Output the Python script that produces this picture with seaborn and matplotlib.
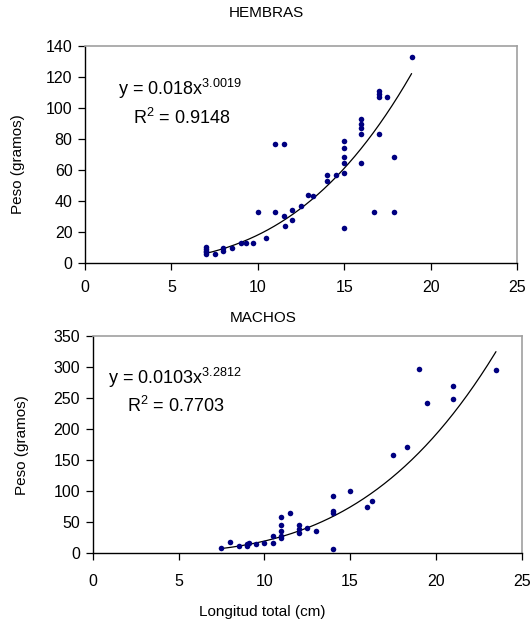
import numpy as np
import pandas as pd
import matplotlib
matplotlib.use('Agg')
import matplotlib.pyplot as plt
import seaborn as sns

# HEMBRAS: longitud total (cm) y peso (g)
hembras_longitud = [7, 7, 7, 7, 7, 7.5, 8, 8, 8.5, 9, 9.3, 9.7, 10, 10.5, 11, 11,
                    11.5, 11.5, 11.6, 12, 12, 12.5, 12.9, 13.2, 14, 14, 14.5,
                    15, 15, 15, 15, 15, 15, 16, 16, 16, 16, 16, 16.7,
                    17, 17, 17, 17, 17.5, 17.9, 17.9, 18.9]
hembras_peso = [6, 7, 8, 9, 10.5, 6, 10, 7.5, 10, 13, 13, 13, 33, 16, 77, 33,
                77, 30.5, 24, 34, 28, 37, 44, 43, 57, 53, 57,
                78.5, 74.5, 68.5, 64.5, 58, 22.5, 93, 90, 87, 83, 64.5, 33,
                111, 109, 107, 83, 107, 68.5, 33, 133]

# MACHOS
machos_longitud = [7.5, 8, 8.5, 9, 9, 9.1, 9.5, 10, 10.5, 10.5, 11, 11, 11, 11, 11,
                   11.5, 12, 12, 12, 12.5, 13, 14, 14, 14, 14, 15, 16, 16.3,
                   17.5, 18.3, 19, 19.5, 21, 21, 23.5]
machos_peso = [9, 18, 12, 11, 15, 17, 15, 17, 28, 17, 59, 45, 36, 28, 25,
               65, 45, 39, 32, 40, 36, 92, 68, 65, 7, 101, 74, 84,
               159, 171, 297, 242, 270, 249, 295]

# Curvas potenciales (y = a x^b) y R2 tal como aparecen en la figura
hembras_ajuste = {'a': 0.018, 'b': 3.0019, 'r2': 0.9148, 'a_txt': '0.018'}
machos_ajuste = {'a': 0.0103, 'b': 3.2812, 'r2': 0.7703, 'a_txt': '0.0103'}

sns.set_style('white')
plt.rcParams['font.family'] = ['Liberation Sans', 'DejaVu Sans']
plt.rcParams['mathtext.fontset'] = 'custom'
plt.rcParams['mathtext.rm'] = 'Liberation Sans'
plt.rcParams['mathtext.it'] = 'Liberation Sans'
plt.rcParams['text.color'] = 'black'
plt.rcParams['xtick.color'] = 'black'
plt.rcParams['ytick.color'] = 'black'

W, H = 531, 630
fig = plt.figure(figsize=(W / 100, H / 100), dpi=100)


def px_axes(left, top, right, bottom):
    return fig.add_axes([left / W, 1 - bottom / H, (right - left) / W, (bottom - top) / H])


def draw_panel(ax, x, y, fit, ymax, ystep, eq_xy, r2_xy, xpad):
    df = pd.DataFrame({'Longitud': x, 'Peso': y})
    sns.scatterplot(data=df, x='Longitud', y='Peso', ax=ax, color='#000080',
                    s=16, linewidth=0, zorder=3)

    # trendline drawn over the data range
    xs = np.linspace(min(x), max(x), 200)
    curve = pd.DataFrame({'Longitud': xs, 'Peso': fit['a'] * xs ** fit['b']})
    sns.lineplot(data=curve, x='Longitud', y='Peso', ax=ax, color='black', lw=0.9)

    ax.set_xlim(0, 25)
    ax.set_ylim(0, ymax)
    ax.set_xticks(range(0, 26, 5))
    ax.set_yticks(range(0, ymax + 1, ystep))
    ax.set_xlabel('')
    ax.set_ylabel('')
    ax.tick_params(axis='both', direction='out', length=5, width=0.9,
                   color='black', labelcolor='black', labelsize=11.5,
                   left=True, bottom=True)
    ax.tick_params(axis='x', pad=xpad)
    ax.tick_params(axis='y', pad=4)

    for side in ['left', 'bottom']:
        ax.spines[side].set_color('black')
        ax.spines[side].set_linewidth(1.0)
    for side in ['top', 'right']:
        ax.spines[side].set_color('#a0a0a0')
        ax.spines[side].set_linewidth(1.2)

    ax.text(eq_xy[0], eq_xy[1], f"y = {fit['a_txt']}x$^{{{fit['b']:.4f}}}$",
            transform=ax.transAxes, fontsize=13, ha='left', va='baseline')
    ax.text(r2_xy[0], r2_xy[1], f"R$^{{2}}$ = {fit['r2']:.4f}",
            transform=ax.transAxes, fontsize=13, ha='left', va='baseline')


ax1 = px_axes(85, 46, 517, 263)
draw_panel(ax1, hembras_longitud, hembras_peso, hembras_ajuste, 140, 20,
           (0.076, 0.774), (0.111, 0.641), 7)

ax2 = px_axes(92.7, 336, 521.7, 553.3)
draw_panel(ax2, machos_longitud, machos_peso, machos_ajuste, 350, 50,
           (0.036, 0.778), (0.080, 0.649), 10)

fig.text(266 / W, 1 - 13 / H, 'HEMBRAS', ha='center', va='center', fontsize=11)
fig.text(263 / W, 1 - 318 / H, 'MACHOS', ha='center', va='center', fontsize=11)
fig.text(18.5 / W, 1 - 164 / H, 'Peso (gramos)', rotation=90,
         ha='center', va='center', fontsize=11)
fig.text(22.5 / W, 1 - 445 / H, 'Peso (gramos)', rotation=90,
         ha='center', va='center', fontsize=11)
fig.text(262 / W, 1 - 612 / H, 'Longitud total (cm)', ha='center', va='center', fontsize=11)

fig.savefig('out.png', dpi=100, facecolor='white')
